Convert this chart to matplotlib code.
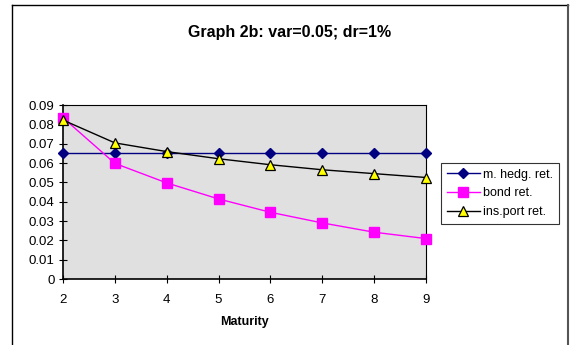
import matplotlib
matplotlib.use("Agg")
import matplotlib.pyplot as plt
from matplotlib.lines import Line2D

plt.rcParams['font.family'] = ['Liberation Sans', 'DejaVu Sans']

maturity = [2, 3, 4, 5, 6, 7, 8, 9]
hedg_ret = [0.065, 0.065, 0.065, 0.065, 0.065, 0.065, 0.065, 0.065]
bond_ret = [0.0834, 0.0598, 0.0497, 0.0414, 0.0345, 0.0290, 0.0242, 0.0209]
ins_ret = [0.0822, 0.0704, 0.0659, 0.0622, 0.0591, 0.0565, 0.0545, 0.0525]
yticks = [0, 0.01, 0.02, 0.03, 0.04, 0.05, 0.06, 0.07, 0.08, 0.09]
ytick_labels = ['0', '0.01', '0.02', '0.03', '0.04', '0.05', '0.06', '0.07', '0.08', '0.09']
labels = ['m. hedg. ret.', 'bond ret.', 'ins.port ret.']

fig = plt.figure(figsize=(5.7, 3.45), dpi=100)
ax = fig.add_axes([63/570, 1-279/345, 363/570, 174/345])
ax.set_facecolor('#e0e0e0')

ax.plot(maturity, hedg_ret, color='#000080', lw=1, marker='D', ms=5.5,
        mfc='#000080', mec='#000080', label=labels[0], clip_on=False, zorder=3)
ax.plot(maturity, bond_ret, color='#ff00ff', lw=1, marker='s', ms=7,
        mfc='#ff00ff', mec='#ff00ff', label=labels[1], clip_on=False, zorder=3)
ax.plot(maturity, ins_ret, color='black', lw=1, marker='^', ms=6.5,
        mfc='#ffff00', mec='black', mew=0.9, label=labels[2], clip_on=False, zorder=4)

ax.set_xlim(2, 9)
ax.set_ylim(0, 0.09)
ax.set_xticks(maturity)
ax.set_xticklabels([str(m) for m in maturity], fontsize=9.5)
ax.set_yticks(yticks)
ax.set_yticklabels(ytick_labels, fontsize=9.5)
ax.tick_params(axis='both', direction='inout', length=6, width=0.8, pad=3)
ax.tick_params(axis='x', pad=8)
for s in ax.spines.values():
    s.set_linewidth(0.8)
    s.set_color('black')
ax.spines['left'].set_linewidth(1.2)
ax.spines['bottom'].set_linewidth(1.2)

ax.set_xlabel('Maturity', fontsize=9, fontweight='bold', labelpad=7)

fig.text(290/570, 1-32/345, 'Graph 2b: var=0.05; dr=1%', ha='center', va='center',
         fontsize=11.5, fontweight='bold')

leg = fig.legend(loc='upper left', bbox_to_anchor=(441/570, 1-163/345), fontsize=9,
                 frameon=True, fancybox=False, edgecolor='black', borderpad=0.45,
                 handlelength=2.64, handletextpad=0.3, labelspacing=0.55,
                 borderaxespad=0)
leg.get_frame().set_linewidth(0.8)

# outer chart frame (left, top, right)
fig.add_artist(Line2D([12/570, 12/570], [0, 1-5/345], color='black', lw=1, transform=fig.transFigure))
fig.add_artist(Line2D([12/570, 568/570], [1-5/345, 1-5/345], color='black', lw=1, transform=fig.transFigure))
fig.add_artist(Line2D([568/570, 568/570], [0, 1-5/345], color='#555555', lw=1.5, transform=fig.transFigure))

fig.savefig('out.png', dpi=100)
